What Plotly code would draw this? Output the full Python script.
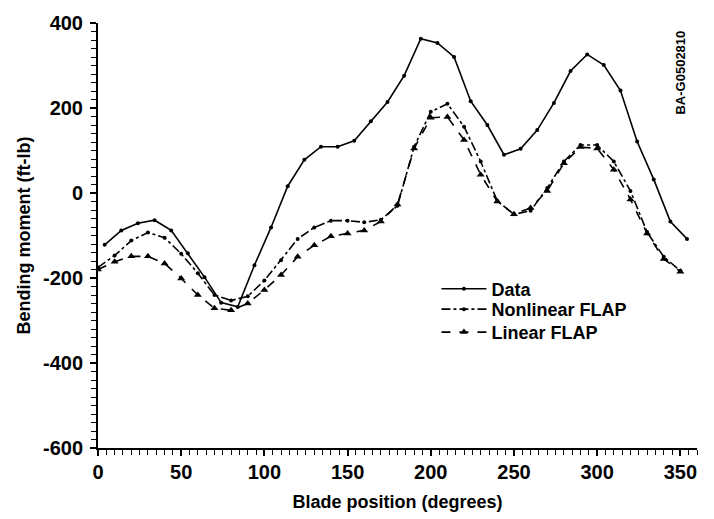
import plotly.graph_objects as go

# Measured data (blade position, degrees)
data_pos = [4, 14, 24, 34, 44, 54, 64, 74, 84, 94, 104, 114, 124, 134, 144, 154,
            164, 174, 184, 194, 204, 214, 224, 234, 244, 254, 264, 274, 284, 294,
            304, 314, 324, 334, 344, 354]
data_val = [-122, -88, -71, -64, -88, -142, -198, -258, -268, -170, -81, 16, 78, 109,
            109, 123, 169, 214, 276, 363, 353, 320, 216, 160, 90, 104, 148, 212, 287,
            326, 301, 241, 121, 32, -67, -108]

flap_pos = [0, 10, 20, 30, 40, 50, 60, 70, 80, 90, 100, 110, 120, 130, 140, 150,
            160, 170, 180, 190, 200, 210, 220, 230, 240, 250, 260, 270, 280, 290,
            300, 310, 320, 330, 340, 350]
nonlinear_val = [-175, -147, -112, -93, -105, -143, -189, -240, -253, -243, -206, -158,
                 -108, -81, -65, -65, -69, -63, -30, 109, 191, 210, 156, 74, -19, -50,
                 -42, 12, 74, 113, 113, 74, 5, -92, -150, -183]
linear_val = [-180, -162, -149, -149, -166, -201, -240, -271, -276, -260, -228, -193,
              -150, -123, -102, -95, -88, -67, -27, 105, 177, 179, 125, 43, -20, -50,
              -35, 5, 70, 108, 105, 55, -15, -95, -155, -185]

x_ticks = [0, 50, 100, 150, 200, 250, 300, 350]
x_ticktext = ["0", "50", "100", "150", "200", "250", "300", "350"]
y_ticks = [-600, -400, -200, 0, 200, 400]
y_ticktext = ["-600", "-400", "-200", "0", "200", "400"]

X_RANGE = [0, 360]
Y_RANGE = [-600, 400]

FONT = "Liberation Sans, Arial, Helvetica, sans-serif"
BLACK = "black"

fig = go.Figure()
fig.add_trace(go.Scatter(
    x=data_pos, y=data_val, name="Data", mode="lines+markers", legend="legend",
    line=dict(color=BLACK, width=1.6),
    marker=dict(symbol="circle", size=4, color=BLACK)))
fig.add_trace(go.Scatter(
    x=flap_pos, y=nonlinear_val, name="Nonlinear FLAP", mode="lines+markers",
    legend="legend2",
    line=dict(color=BLACK, width=1.6, dash="dashdot"),
    marker=dict(symbol="circle", size=4, color=BLACK)))
fig.add_trace(go.Scatter(
    x=flap_pos, y=linear_val, name="Linear FLAP", mode="lines+markers",
    legend="legend3",
    line=dict(color=BLACK, width=1.6, dash="dash"),
    marker=dict(symbol="triangle-up", size=7, color=BLACK)))
# empty trace that activates the label-only overlay axes
fig.add_trace(go.Scatter(x=[], y=[], xaxis="x2", yaxis="y2", showlegend=False,
                         hoverinfo="skip"))

leg_common = dict(x=0.565, xanchor="left", yanchor="middle",
                  bgcolor="rgba(0,0,0,0)", borderwidth=0, itemwidth=45,
                  font=dict(family=FONT, size=18, weight="bold", color=BLACK))

tick_font = dict(family=FONT, size=20, weight="bold", color=BLACK)

fig.update_layout(
    width=714, height=519,
    margin=dict(l=98, r=17, t=20, b=69),
    paper_bgcolor="white", plot_bgcolor="white",
    font=dict(family=FONT, color=BLACK, size=15),
    showlegend=True,
    legend=dict(y=0.374, **leg_common),
    legend2=dict(y=0.326, **leg_common),
    legend3=dict(y=0.272, **leg_common),
    annotations=[dict(text="<b>BA-G0502810</b>", x=0.972, y=0.884,
                      xref="paper", yref="paper", xanchor="center", yanchor="middle",
                      showarrow=False, textangle=-90,
                      font=dict(family=FONT, size=13, color=BLACK))],
    xaxis=dict(
        range=X_RANGE, tickmode="linear", tick0=0, dtick=50, showticklabels=False,
        showgrid=False, zeroline=False,
        showline=True, linecolor=BLACK, linewidth=2,
        ticks="outside", ticklen=6, tickwidth=1.5, tickcolor=BLACK,
        minor=dict(dtick=5, ticks="outside", ticklen=5, tickwidth=1.2, tickcolor=BLACK),
        title=dict(text="Blade position (degrees)",
                   font=dict(family=FONT, size=18, weight="bold", color=BLACK),
                   standoff=40)),
    yaxis=dict(
        range=Y_RANGE, tickmode="linear", tick0=0, dtick=200, showticklabels=False,
        showgrid=False, zeroline=False,
        showline=True, linecolor=BLACK, linewidth=2,
        ticks="outside", ticklen=6, tickwidth=1.5, tickcolor=BLACK,
        minor=dict(dtick=20, ticks="outside", ticklen=5, tickwidth=1.2, tickcolor=BLACK),
        title=dict(text="Bending moment (ft-lb)",
                   font=dict(family=FONT, size=18, weight="bold", color=BLACK),
                   standoff=55)),
    xaxis2=dict(
        range=X_RANGE, overlaying="x", anchor="y2", side="bottom",
        tickmode="array", tickvals=x_ticks, ticktext=x_ticktext,
        showgrid=False, zeroline=False, showline=False,
        ticks="outside", ticklen=6, tickcolor="rgba(0,0,0,0)",
        ticklabelstandoff=0, tickfont=tick_font),
    yaxis2=dict(
        range=Y_RANGE, overlaying="y", anchor="x2", side="left",
        tickmode="array", tickvals=y_ticks, ticktext=y_ticktext,
        showgrid=False, zeroline=False, showline=False,
        ticks="outside", ticklen=6, tickcolor="rgba(0,0,0,0)",
        ticklabelstandoff=4, tickfont=tick_font),
)

fig.write_html("out.html")
